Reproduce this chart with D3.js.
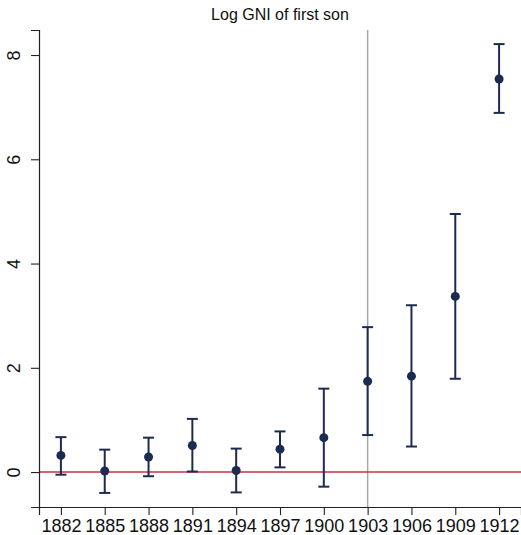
<!DOCTYPE html>
<html>
<head>
<meta charset="utf-8">
<script src="https://cdn.jsdelivr.net/npm/d3@7"></script>
<style>
body { margin: 0; background: #fff; }
text { font-family: "Liberation Sans", Arial, Helvetica, sans-serif; }
</style>
</head>
<body>
<svg width="521" height="535"></svg>
<script>
// coefficients by cohort year
const years = [1882, 1885, 1888, 1891, 1894, 1897, 1900, 1903, 1906, 1909, 1912];
const est   = [0.32, 0.02, 0.29, 0.51, 0.03, 0.44, 0.66, 1.74, 1.84, 3.37, 7.54];
const upper = [0.67, 0.43, 0.66, 1.02, 0.45, 0.78, 1.60, 2.78, 3.20, 4.95, 8.21];
const lower = [-0.05, -0.40, -0.08, 0.01, -0.39, 0.09, -0.28, 0.71, 0.49, 1.79, 6.89];
const yTicks = [0, 2, 4, 6, 8];
const refYear = 1903;

const data = years.map((y, i) => ({year: y, b: est[i], hi: upper[i], lo: lower[i]}));

const margin = {top: 30, right: 0, bottom: 28, left: 39},
    width = 521 - margin.left - margin.right,
    height = 535 - margin.top - margin.bottom;

const navy = '#1d2b50';

const xScale = d3.scaleLinear()
    .domain([1880.5, 1913.5])
    .range([0, width]);

const yScale = d3.scaleLinear()
    .domain([-0.67, 8.48])
    .range([height, 0]);

const svg = d3.select('svg');
const g = svg.append('g')
    .attr('transform', 'translate(' + margin.left + ',' + margin.top + ')');

// title
svg.append('text')
    .attr('x', 280)
    .attr('y', 20)
    .attr('text-anchor', 'middle')
    .attr('font-size', 16)
    .attr('fill', '#111')
    .text('Log GNI of first son');

// reference year line
g.append('line')
    .attr('x1', xScale(refYear)).attr('x2', xScale(refYear))
    .attr('y1', 0).attr('y2', height)
    .attr('stroke', '#a8a8a8')
    .attr('stroke-width', 1.5);

// zero line
g.append('line')
    .attr('x1', 0).attr('x2', width)
    .attr('y1', yScale(0)).attr('y2', yScale(0))
    .attr('stroke', '#c9323f')
    .attr('stroke-width', 1.6);

// y axis
const yAxis = g.append('g')
    .call(d3.axisLeft(yScale).tickValues(yTicks).tickSize(8).tickPadding(10));
yAxis.select('.domain').attr('stroke', '#222').attr('stroke-width', 1.2);
yAxis.selectAll('.tick line').attr('stroke', '#222').attr('stroke-width', 1.1);
yAxis.selectAll('.tick text')
    .attr('font-size', 18)
    .attr('fill', '#111')
    .attr('text-anchor', 'middle')
    .attr('dy', 0)
    .attr('transform', 'translate(-24,0) rotate(-90)')
    .attr('x', 0)
    .attr('y', 0)
    .attr('dominant-baseline', 'middle');

// x axis
const xAxis = g.append('g')
    .attr('transform', 'translate(0,' + height + ')')
    .call(d3.axisBottom(xScale).tickValues(years).tickFormat(d => d).tickSize(8).tickPadding(4));
xAxis.select('.domain').attr('stroke', '#222').attr('stroke-width', 1.2);
xAxis.selectAll('.tick line').attr('stroke', '#222').attr('stroke-width', 1.1);
xAxis.selectAll('.tick text').attr('font-size', 18).attr('fill', '#111');

// error bars
const bars = g.selectAll('.bar')
    .data(data)
    .enter()
    .append('g')
    .classed('bar', true);

bars.append('line')
    .attr('x1', d => xScale(d.year)).attr('x2', d => xScale(d.year))
    .attr('y1', d => yScale(d.hi)).attr('y2', d => yScale(d.lo))
    .attr('stroke', navy).attr('stroke-width', 2);

bars.append('line')
    .attr('x1', d => xScale(d.year) - 5.5).attr('x2', d => xScale(d.year) + 5.5)
    .attr('y1', d => yScale(d.hi)).attr('y2', d => yScale(d.hi))
    .attr('stroke', navy).attr('stroke-width', 2);

bars.append('line')
    .attr('x1', d => xScale(d.year) - 5.5).attr('x2', d => xScale(d.year) + 5.5)
    .attr('y1', d => yScale(d.lo)).attr('y2', d => yScale(d.lo))
    .attr('stroke', navy).attr('stroke-width', 2);

bars.append('circle')
    .attr('cx', d => xScale(d.year))
    .attr('cy', d => yScale(d.b))
    .attr('r', 4.5)
    .attr('fill', navy);
</script>
</body>
</html>
